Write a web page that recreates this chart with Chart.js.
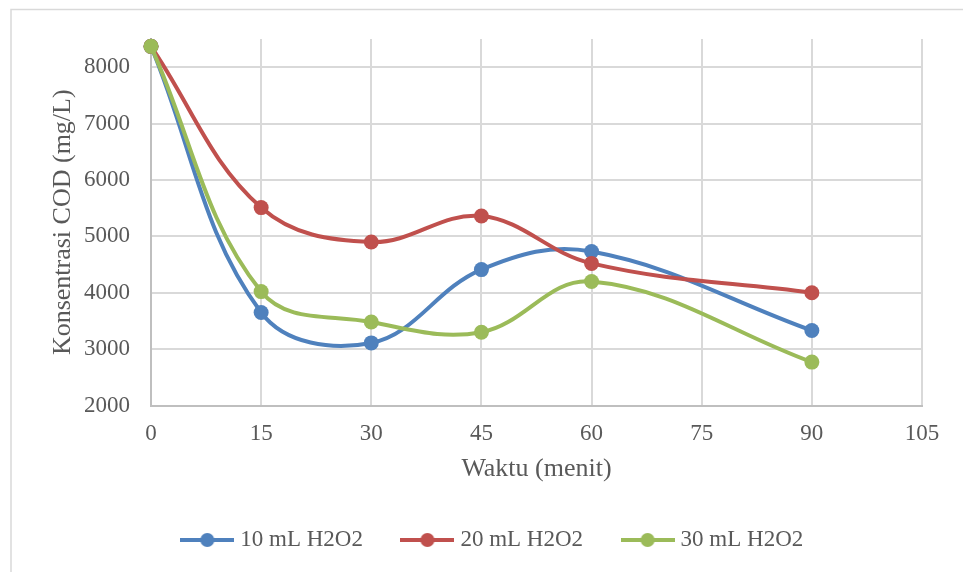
<!DOCTYPE html>
<html>
<head>
<meta charset="utf-8">
<script src="https://cdn.jsdelivr.net/npm/chart.js@4/dist/chart.umd.min.js"></script>
<style>
  body { margin: 0; background: #fff; }
  canvas { display: block; }
</style>
</head>
<body>
<canvas id="cod-canvas" width="963" height="572"></canvas>
<script>
let waktu = [0, 15, 30, 45, 60, 90];
let cod10 = [8370, 3650, 3110, 4410, 4730, 3330];
let cod20 = [8370, 5510, 4900, 5360, 4520, 4000];
let cod30 = [8370, 4020, 3480, 3300, 4200, 2770];
let seriesNames = ['10 mL H2O2', '20 mL H2O2', '30 mL H2O2'];
let xTicks = [0, 15, 30, 45, 60, 75, 90, 105];
let yTicks = [2000, 3000, 4000, 5000, 6000, 7000, 8000];

let colors = ['#4F81BD', '#C0504D', '#9BBB59'];
let textColor = '#595959';
let fontFamily = '"Liberation Serif", "Times New Roman", serif';

// little line+dot picture for the legend
function legendMark(color) {
    let c = document.createElement('canvas');
    c.width = 54;
    c.height = 16;
    let g = c.getContext('2d');
    g.strokeStyle = color;
    g.lineWidth = 4;
    g.beginPath();
    g.moveTo(0, 8);
    g.lineTo(54, 8);
    g.stroke();
    g.fillStyle = color;
    g.beginPath();
    g.arc(27, 8, 7, 0, Math.PI * 2);
    g.fill();
    return c;
}

function toPoints(values) {
    return values.map((v, i) => ({x: waktu[i], y: v}));
}

function makeSet(i, values) {
    return {
        label: seriesNames[i],
        data: toPoints(values),
        borderColor: colors[i],
        backgroundColor: colors[i],
        borderWidth: 4,
        pointRadius: 7.5,
        pointHoverRadius: 7.5,
        pointBorderWidth: 0,
        pointStyle: 'circle',
        tension: 0.38,
        clip: false,
        order: 3 - i
    };
}

let marks = colors.map(legendMark);

let frame = {
    id: 'frame',
    afterLayout(chart) {
        chart.legend.left += 28;
        chart.legend.right += 28;
    },
    beforeDraw(chart) {
        let ctx = chart.ctx;
        ctx.save();
        ctx.strokeStyle = '#D9D9D9';
        ctx.lineWidth = 1.5;
        ctx.beginPath();
        ctx.moveTo(11, 572);
        ctx.lineTo(11, 9.5);
        ctx.lineTo(963, 9.5);
        ctx.stroke();
        ctx.restore();
    }
};

let codCtx = document.getElementById('cod-canvas').getContext('2d');

let codChart = new Chart(codCtx, {
    type: 'line',
    data: {
        datasets: [
            makeSet(0, cod10),
            makeSet(1, cod20),
            makeSet(2, cod30)
        ]
    },
    options: {
        responsive: false,
        animation: false,
        layout: {
            padding: {
                left: 11,
                right: 41,
                top: 39,
                bottom: 10.5
            }
        },
        scales: {
            x: {
                type: 'linear',
                min: 0,
                max: 105,
                afterBuildTicks: (scale) => { scale.ticks = xTicks.map(v => ({value: v})); },
                afterFit: (scale) => { scale.height = 80; },
                grid: {
                    color: '#D9D9D9',
                    lineWidth: 2,
                    drawTicks: false
                },
                border: {
                    color: '#BFBFBF',
                    width: 2
                },
                ticks: {
                    padding: 15,
                    color: textColor,
                    font: { family: fontFamily, size: 23 },
                    maxRotation: 0,
                    callback: (v) => String(v)
                },
                title: {
                    display: true,
                    text: 'Waktu (menit)',
                    color: textColor,
                    font: { family: fontFamily, size: 26 },
                    padding: { top: 0, bottom: 0.4 }
                }
            },
            y: {
                type: 'linear',
                min: 2000,
                max: 8500,
                afterBuildTicks: (scale) => { scale.ticks = yTicks.map(v => ({value: v})); },
                afterFit: (scale) => { scale.width = 140; },
                grid: {
                    color: '#D9D9D9',
                    lineWidth: 2,
                    drawTicks: false
                },
                border: {
                    color: '#BFBFBF',
                    width: 2
                },
                ticks: {
                    padding: 21,
                    color: textColor,
                    font: { family: fontFamily, size: 23 },
                    callback: (v) => String(v)
                },
                title: {
                    display: true,
                    text: 'Konsentrasi COD (mg/L)',
                    color: textColor,
                    font: { family: fontFamily, size: 26 },
                    padding: { top: 36.4, bottom: 0 }
                }
            }
        },
        plugins: {
            legend: {
                position: 'bottom',
                labels: {
                    color: textColor,
                    font: { family: fontFamily, size: 23 },
                    usePointStyle: true,
                    pointStyleWidth: 43,
                    padding: 43,
                    sort: (a, b) => a.datasetIndex - b.datasetIndex,
                    generateLabels: (chart) => chart.data.datasets.map((ds, i) => ({
                        text: ds.label,
                        pointStyle: marks[i],
                        fillStyle: colors[i],
                        strokeStyle: colors[i],
                        lineWidth: 0,
                        fontColor: textColor,
                        hidden: false,
                        datasetIndex: i
                    }))
                }
            },
            tooltip: { enabled: false }
        }
    },
    plugins: [frame]
});
</script>
</body>
</html>
